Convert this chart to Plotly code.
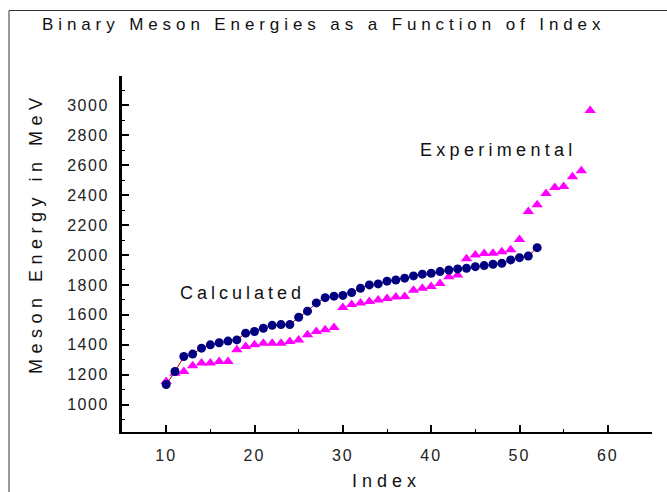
import plotly.graph_objects as go

calc_index = [10, 11, 12, 13, 14, 15, 16, 17, 18, 19, 20, 21, 22, 23, 24, 25, 26, 27, 28, 29, 30,
              31, 32, 33, 34, 35, 36, 37, 38, 39, 40, 41, 42, 43, 44, 45, 46, 47, 48, 49, 50, 51, 52]
calc_energy = [1135, 1222, 1322, 1338, 1378, 1400, 1414, 1425, 1433, 1478, 1489, 1511, 1530, 1535,
               1535, 1584, 1625, 1680, 1715, 1725, 1730, 1749, 1778, 1800, 1807, 1825, 1833, 1845,
               1860, 1872, 1878, 1889, 1900, 1907, 1911, 1922, 1929, 1938, 1944, 1967, 1982, 1993, 2049]

exp_index = [10, 11, 12, 13, 14, 15, 16, 17, 18, 19, 20, 21, 22, 23, 24, 25, 26, 27, 28, 29, 30,
             31, 32, 33, 34, 35, 36, 37, 38, 39, 40, 41, 42, 43, 44, 45, 46, 47, 48, 49, 50,
             51, 52, 53, 54, 55, 56, 57, 58]
exp_energy = [1156, 1211, 1222, 1260, 1278, 1278, 1289, 1289, 1367, 1389, 1400, 1411, 1411, 1411,
              1422, 1433, 1467, 1489, 1500, 1515, 1650, 1670, 1680, 1690, 1700, 1710, 1720, 1722,
              1765, 1778, 1790, 1810, 1855, 1867, 1975, 2000, 2010, 2012, 2022, 2035, 2104,
              2290, 2335, 2410, 2450, 2458, 2522, 2562, 2965]

x_ticks = [10, 20, 30, 40, 50, 60]
y_ticks = [1000, 1200, 1400, 1600, 1800, 2000, 2200, 2400, 2600, 2800, 3000]

title_text = "Binary Meson Energies as a Function of Index"
x_title = "Index"
y_title = "Meson Energy in MeV"
label_calc = "Calculated"
label_exp = "Experimental"

FONT = "Liberation Sans, Arial, sans-serif"


def spaced(t, px):
    return '<span style="letter-spacing:%spx">%s</span>' % (px, t)


fig = go.Figure()
fig.add_trace(go.Scatter(
    x=exp_index, y=exp_energy, mode="markers", name=label_exp,
    marker=dict(symbol="triangle-up", size=10, color="#ff00ff", line=dict(width=0)),
))
fig.add_trace(go.Scatter(
    x=calc_index, y=calc_energy, mode="lines+markers", name=label_calc,
    line=dict(color="#b00000", width=1),
    marker=dict(symbol="circle", size=9, color="#000080", line=dict(width=0)),
))

fig.update_layout(
    width=667, height=492,
    margin=dict(l=122, r=15, t=76, b=60),
    paper_bgcolor="white", plot_bgcolor="white",
    showlegend=False,
    font=dict(family=FONT, color="#111111", size=16),
    xaxis=dict(
        range=[5, 65], showgrid=False, zeroline=False,
        showline=True, linecolor="black", linewidth=2,
        ticks="inside", ticklen=7, tickwidth=1.5, tickcolor="black",
        tickmode="array", tickvals=x_ticks,
        ticktext=[spaced(str(v), 2) for v in x_ticks],
        tickfont=dict(size=16, family=FONT, color="#222222"),
        ticklabelstandoff=8,
        minor=dict(ticks="inside", ticklen=3, tickwidth=1, tickcolor="black", dtick=5, tick0=5),
    ),
    yaxis=dict(
        range=[818, 3195], showgrid=False, zeroline=False,
        showline=True, linecolor="black", linewidth=3,
        ticks="inside", ticklen=7, tickwidth=1.5, tickcolor="black",
        tickmode="array", tickvals=y_ticks,
        ticktext=[spaced(str(v), 1.5) for v in y_ticks],
        tickfont=dict(size=16, family=FONT, color="#222222"),
        ticklabelstandoff=7,
        minor=dict(ticks="inside", ticklen=3, tickwidth=1, tickcolor="black", dtick=100, tick0=900),
    ),
    annotations=[
        dict(text=spaced(title_text, 4.9), xref="paper", yref="paper",
             x=(40 - 122) / 530, y=(432 - 25) / 356, xanchor="left", yanchor="middle",
             showarrow=False, font=dict(size=17, family=FONT, color="#111111")),
        dict(text=spaced(x_title, 5), xref="paper", yref="paper",
             x=(386 - 122) / 530, y=(432 - 481) / 356, xanchor="center", yanchor="middle",
             showarrow=False, font=dict(size=18, family=FONT, color="#111111")),
        dict(text=spaced(y_title, 5.5), xref="paper", yref="paper", textangle=-90,
             x=(36 - 122) / 530, y=(432 - 233) / 356, xanchor="center", yanchor="middle",
             showarrow=False, font=dict(size=18, family=FONT, color="#111111")),
        dict(text=spaced(label_calc, 4), x=11.3, y=1747, xref="x", yref="y",
             xanchor="left", yanchor="middle", showarrow=False,
             font=dict(size=18, family=FONT, color="#111111")),
        dict(text=spaced(label_exp, 4.3), x=38.5, y=2700, xref="x", yref="y",
             xanchor="left", yanchor="middle", showarrow=False,
             font=dict(size=18, family=FONT, color="#111111")),
    ],
    shapes=[
        dict(type="rect", xref="paper", yref="paper",
             x0=(9 - 122) / 530, x1=(720 - 122) / 530,
             y0=(432 - 560) / 356, y1=(432 - 10.5) / 356,
             line=dict(color="#333333", width=1), fillcolor="rgba(0,0,0,0)", layer="below"),
    ],
)

fig.write_html("out.html")
